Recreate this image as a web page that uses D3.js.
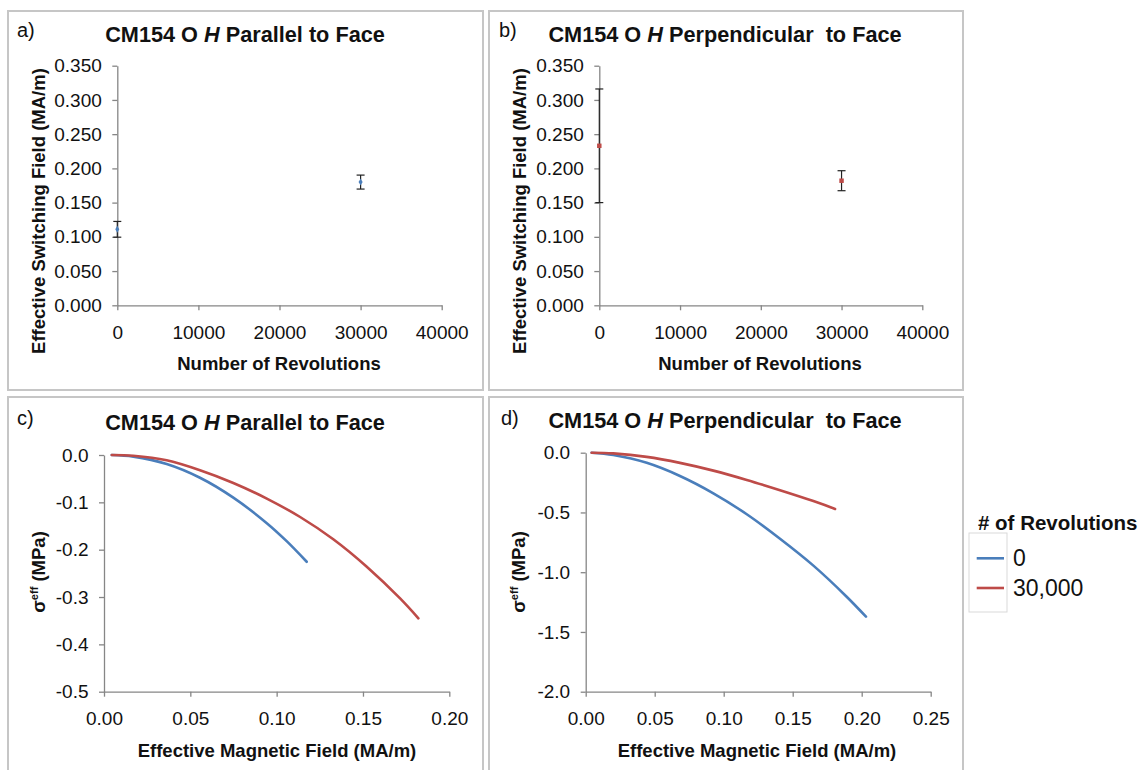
<!DOCTYPE html>
<html>
<head>
<meta charset="utf-8">
<script src="https://cdn.jsdelivr.net/npm/d3@7"></script>
<style>
  body { margin: 0; background: #fff; }
  svg { display: block; font-family: "Liberation Sans", Arial, sans-serif; }
</style>
</head>
<body>
<svg id="fig" width="1143" height="770"></svg>
<script>
// ---- switching field vs. number of revolutions (panels a, b) ----
const revolutions = [0, 30000];
const parallelSwitchField = [0.111, 0.180];
const parallelSwitchErr = [0.0115, 0.0102];
const perpSwitchField = [0.233, 0.182];
const perpSwitchErr = [0.083, 0.0146];

const revolutionTicks = [0, 10000, 20000, 30000, 40000];
const switchFieldTicks = [0, 0.05, 0.10, 0.15, 0.20, 0.25, 0.30, 0.35];

// ---- effective stress vs. effective magnetic field (panels c, d) ----
const parallelH_0 = [0.0045, 0.017, 0.0363, 0.0556, 0.0749, 0.0943, 0.1058, 0.1174];
const parallelS_0 = [0, -0.0035, -0.019, -0.048, -0.090, -0.144, -0.182, -0.2255];
const parallelH_30k = [0.0045, 0.017, 0.0363, 0.0556, 0.0749, 0.0943, 0.1136, 0.1328, 0.1522, 0.1715, 0.1821];
const parallelS_30k = [0, -0.0015, -0.011, -0.032, -0.059, -0.092, -0.131, -0.178, -0.236, -0.303, -0.345];

const perpH_0 = [0.0043, 0.020, 0.0442, 0.0683, 0.0925, 0.1167, 0.1408, 0.165, 0.1891, 0.2031];
const perpS_0 = [0, -0.020, -0.085, -0.195, -0.340, -0.515, -0.720, -0.945, -1.205, -1.372];
const perpH_30k = [0.0043, 0.020, 0.0442, 0.0683, 0.0925, 0.1167, 0.1408, 0.165, 0.1807];
const perpS_30k = [0, -0.006, -0.035, -0.085, -0.150, -0.228, -0.314, -0.405, -0.471];

const parallelFieldTicks = [0, 0.05, 0.10, 0.15, 0.20];
const parallelStressTicks = [0, -0.1, -0.2, -0.3, -0.4, -0.5];
const perpFieldTicks = [0, 0.05, 0.10, 0.15, 0.20, 0.25];
const perpStressTicks = [0, -0.5, -1.0, -1.5, -2.0];

const legendLabels = ["0", "30,000"];

// ---- styling ----
const BLUE = "#4a7ebb";
const RED = "#be4b48";
const AXIS = "#868686";
const FRAME = "#c6c6c6";
const FONT = "'Liberation Sans', Arial, sans-serif";

const svg = d3.select("#fig");
svg.append("rect").attr("width", 1143).attr("height", 770).attr("fill", "#fff");

function frame(x, y, w, h) {
  svg.append("rect").attr("x", x).attr("y", y).attr("width", w).attr("height", h)
    .attr("fill", "none").attr("stroke", FRAME).attr("stroke-width", 2);
}

function axes(xs, ys, xTicks, yTicks, xFmt, yFmt) {
  const xa = svg.append("g")
    .attr("transform", `translate(0,${ys.range()[0]})`)
    .call(d3.axisBottom(xs).tickValues(xTicks).tickFormat(xFmt)
      .tickSize(5).tickSizeOuter(0).tickPadding(15));
  const ya = svg.append("g")
    .attr("transform", `translate(${xs.range()[0]},0)`)
    .call(d3.axisLeft(ys).tickValues(yTicks).tickFormat(yFmt)
      .tickSize(5).tickSizeOuter(0).tickPadding(10.5));
  [xa, ya].forEach(a => {
    a.attr("font-size", 19).attr("font-family", FONT);
    a.selectAll("path, line").attr("stroke", AXIS).attr("stroke-width", 1.3);
    a.selectAll("text").attr("fill", "#111");
  });
}

function title(cx, y, rest) {
  const t = svg.append("text").attr("x", cx).attr("y", y)
    .attr("text-anchor", "middle").attr("font-size", 21.7).attr("font-weight", "bold")
    .attr("fill", "#111").style("white-space", "pre");
  t.append("tspan").text("CM154 O ");
  t.append("tspan").attr("font-style", "italic").text("H");
  t.append("tspan").text(rest);
}

function panelLetter(x, y, s) {
  svg.append("text").attr("x", x).attr("y", y).attr("font-size", 20)
    .attr("fill", "#111").text(s);
}

function xTitle(cx, y, s) {
  svg.append("text").attr("x", cx).attr("y", y).attr("text-anchor", "middle")
    .attr("font-size", 18.5).attr("font-weight", "bold").attr("fill", "#111").text(s);
}

function yTitle(x, cy, s) {
  svg.append("text").attr("transform", `translate(${x},${cy}) rotate(-90)`)
    .attr("text-anchor", "middle").attr("font-size", 18.5).attr("font-weight", "bold")
    .attr("fill", "#111").text(s);
}

function sigmaTitle(x, cy) {
  const t = svg.append("text").attr("transform", `translate(${x},${cy}) rotate(-90)`)
    .attr("text-anchor", "middle").attr("font-size", 18.5).attr("font-weight", "bold")
    .attr("fill", "#111");
  t.append("tspan").text("σ");
  t.append("tspan").attr("font-size", 11).attr("dy", -7).text("eff");
  t.append("tspan").attr("dy", 7).text(" (MPa)");
}

const revFmt = d => String(d);
const fmt3 = d => d.toFixed(3);

// ---- scatter panel with error bars ----
function scatterPanel(cfg) {
  frame(...cfg.box);
  const xs = d3.scaleLinear().domain([0, 40000]).range(cfg.xr);
  const ys = d3.scaleLinear().domain([0, 0.35]).range(cfg.yr);
  axes(xs, ys, revolutionTicks, switchFieldTicks, revFmt, fmt3);

  const pts = revolutions.map((r, i) => ({ r, v: cfg.values[i], e: cfg.errors[i] }));
  const eb = svg.append("g").attr("stroke", "#222").attr("stroke-width", 1.2);
  pts.forEach(p => {
    const x = xs(p.r), y1 = ys(p.v + p.e), y0 = ys(p.v - p.e);
    eb.append("line").attr("x1", x).attr("x2", x).attr("y1", y1).attr("y2", y0);
    eb.append("line").attr("x1", x - 4).attr("x2", x + 4).attr("y1", y1).attr("y2", y1);
    eb.append("line").attr("x1", x - 4).attr("x2", x + 4).attr("y1", y0).attr("y2", y0);
  });
  svg.append("g").selectAll("path").data(pts).join("path")
    .attr("transform", p => `translate(${xs(p.r)},${ys(p.v)})`)
    .attr("d", d3.symbol(cfg.symbol, cfg.symbolSize))
    .attr("fill", cfg.color);

  panelLetter(cfg.letterPos[0], cfg.letterPos[1], cfg.letter);
  title(cfg.titleX, 41.5, cfg.titleRest);
  xTitle(cfg.xTitlePos[0], cfg.xTitlePos[1], "Number of Revolutions");
  yTitle(cfg.yTitlePos[0], cfg.yTitlePos[1], "Effective Switching Field (MA/m)");
}

// ---- stress curve panel ----
function curvePanel(cfg) {
  frame(...cfg.box);
  const xs = d3.scaleLinear().domain(cfg.xDomain).range(cfg.xr);
  const ys = d3.scaleLinear().domain(cfg.yDomain).range(cfg.yr);
  axes(xs, ys, cfg.xTicks, cfg.yTicks, d => d.toFixed(2), d => d.toFixed(1));

  const line = d3.line().x(d => xs(d[0])).y(d => ys(d[1])).curve(d3.curveCatmullRom.alpha(0.5));
  cfg.series.forEach(s => {
    svg.append("path")
      .datum(s.h.map((h, i) => [h, s.s[i]]))
      .attr("d", line).attr("fill", "none")
      .attr("stroke", s.color).attr("stroke-width", 2.6)
      .attr("stroke-linecap", "round").attr("stroke-linejoin", "round");
  });

  panelLetter(cfg.letterPos[0], cfg.letterPos[1], cfg.letter);
  title(cfg.titleX, cfg.titleY, cfg.titleRest);
  xTitle(cfg.xTitlePos[0], cfg.xTitlePos[1], "Effective Magnetic Field (MA/m)");
  sigmaTitle(cfg.yTitlePos[0], cfg.yTitlePos[1]);
}

scatterPanel({
  box: [8, 11, 475, 379], xr: [117.3, 441.7], yr: [305.3, 65.7],
  values: parallelSwitchField, errors: parallelSwitchErr,
  color: BLUE, symbol: d3.symbolDiamond, symbolSize: 14,
  letter: "a)", letterPos: [17, 37], titleX: 245, titleRest: " Parallel to Face",
  xTitlePos: [279, 370], yTitlePos: [44.5, 211]
});

scatterPanel({
  box: [489, 11, 474, 379], xr: [599.3, 922.3], yr: [305.3, 65.7],
  values: perpSwitchField, errors: perpSwitchErr,
  color: RED, symbol: d3.symbolSquare, symbolSize: 20,
  letter: "b)", letterPos: [499, 37], titleX: 725, titleRest: " Perpendicular  to Face",
  xTitlePos: [760, 370], yTitlePos: [525.5, 211]
});

curvePanel({
  box: [8, 397, 475, 390], xr: [104, 449.3], yr: [691.7, 455],
  xDomain: [0, 0.20], yDomain: [-0.5, 0],
  xTicks: parallelFieldTicks, yTicks: parallelStressTicks,
  series: [
    { h: parallelH_0, s: parallelS_0, color: BLUE },
    { h: parallelH_30k, s: parallelS_30k, color: RED }
  ],
  letter: "c)", letterPos: [17, 425], titleX: 245, titleY: 430, titleRest: " Parallel to Face",
  xTitlePos: [277, 757], yTitlePos: [44.5, 572]
});

curvePanel({
  box: [489, 397, 474, 390], xr: [585.7, 930.7], yr: [691.7, 452.7],
  xDomain: [0, 0.25], yDomain: [-2, 0],
  xTicks: perpFieldTicks, yTicks: perpStressTicks,
  series: [
    { h: perpH_0, s: perpS_0, color: BLUE },
    { h: perpH_30k, s: perpS_30k, color: RED }
  ],
  letter: "d)", letterPos: [501, 425], titleX: 725, titleY: 428, titleRest: " Perpendicular  to Face",
  xTitlePos: [757, 757], yTitlePos: [525, 572]
});

// ---- legend ----
const legend = svg.append("g");
legend.append("text").attr("x", 978).attr("y", 530)
  .attr("font-size", 20.5).attr("font-weight", "bold").attr("fill", "#111")
  .text("# of Revolutions");
legend.append("rect").attr("x", 969).attr("y", 533).attr("width", 38).attr("height", 79)
  .attr("fill", "none").attr("stroke", "#d9d9d9").attr("stroke-width", 1);
[BLUE, RED].forEach((c, i) => {
  const y = 558.3 + i * 29.7;
  legend.append("line").attr("x1", 976.7).attr("x2", 1004).attr("y1", y).attr("y2", y)
    .attr("stroke", c).attr("stroke-width", 2.6);
  legend.append("text").attr("x", 1013).attr("y", y + 8)
    .attr("font-size", 23).attr("fill", "#111").text(legendLabels[i]);
});
</script>
</body>
</html>
